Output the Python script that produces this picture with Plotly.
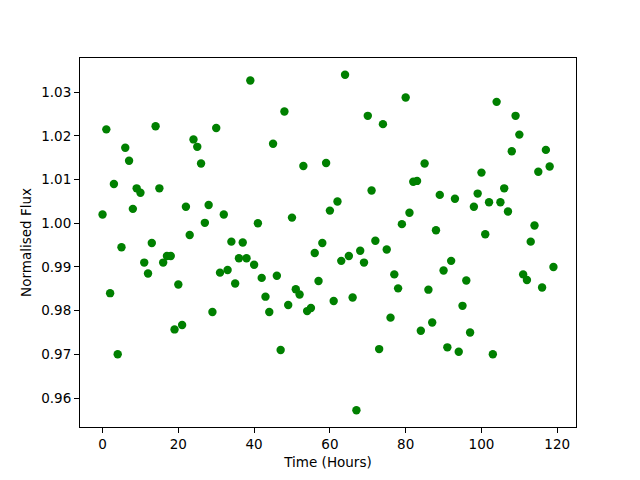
import plotly.graph_objects as go

hours = list(range(120))
flux = [
    1.0020, 1.0215, 0.9840, 1.0090, 0.9700, 0.9945, 1.0173, 1.0143, 1.0033, 1.0080,
    1.0070, 0.9910, 0.9885, 0.9955, 1.0222, 1.0080, 0.9910, 0.9925, 0.9925, 0.9757,
    0.9860, 0.9767, 1.0038, 0.9973, 1.0192, 1.0175, 1.0137, 1.0001, 1.0042, 0.9797,
    1.0218, 0.9887, 1.0020, 0.9893, 0.9958, 0.9862, 0.9920, 0.9956, 0.9920, 1.0327,
    0.9905, 1.0000, 0.9875, 0.9832, 0.9797, 1.0182, 0.9880, 0.9710, 1.0256, 0.9813,
    1.0013, 0.9849, 0.9837, 1.0131, 0.9799, 0.9806, 0.9932, 0.9868, 0.9955, 1.0138,
    1.0029, 0.9822, 1.0050, 0.9914, 1.0340, 0.9925, 0.9830, 0.9572, 0.9937, 0.9910,
    1.0246, 1.0075, 0.9960, 0.9712, 1.0227, 0.9940, 0.9784, 0.9883, 0.9851, 0.9998,
    1.0288, 1.0024, 1.0095, 1.0097, 0.9754, 1.0137, 0.9848, 0.9773, 0.9984, 1.0065,
    0.9892, 0.9716, 0.9914, 1.0056, 0.9706, 0.9811, 0.9869, 0.9750, 1.0038, 1.0068,
    1.0116, 0.9975, 1.0048, 0.9700, 1.0278, 1.0048, 1.0080, 1.0027, 1.0165, 1.0246,
    1.0203, 0.9883, 0.9870, 0.9958, 0.9995, 1.0118, 0.9853, 1.0168, 1.0130, 0.9900,
]
x_ticks = [0, 20, 40, 60, 80, 100, 120]
y_ticks = [0.96, 0.97, 0.98, 0.99, 1.00, 1.01, 1.02, 1.03]

xmin, xmax = min(hours), max(hours)
ymin, ymax = min(flux), max(flux)
xpad = (xmax - xmin) * 0.05
ypad = (ymax - ymin) * 0.05

fig = go.Figure(go.Scatter(
    x=hours, y=flux, mode="markers",
    marker=dict(color="#008000", size=8.4, line=dict(width=0)),
))

axis_common = dict(
    showgrid=False, zeroline=False, showline=True, linecolor="black", linewidth=1,
    mirror=True, ticks="outside", ticklen=5, tickwidth=1, tickcolor="black",
    tickfont=dict(family="DejaVu Sans", size=13.5, color="black"),
)

fig.update_layout(
    width=640, height=480,
    margin=dict(l=72, r=72, t=50, b=61, autoexpand=False),
    paper_bgcolor="white", plot_bgcolor="white",
    showlegend=False,
    font=dict(family="DejaVu Sans", size=13.5, color="black"),
    xaxis=dict(
        range=[xmin - xpad, xmax + xpad], tickvals=x_ticks,
        ticktext=[str(v) for v in x_ticks],
        title=dict(text="Time (Hours)", standoff=6,
                   font=dict(family="DejaVu Sans", size=13.5, color="black")),
        **axis_common,
    ),
    yaxis=dict(
        range=[ymin - ypad, ymax + ypad], tickvals=y_ticks,
        ticktext=[f"{v:.2f}" for v in y_ticks],
        title=dict(text="Normalised Flux", standoff=6,
                   font=dict(family="DejaVu Sans", size=13.5, color="black")),
        **axis_common,
    ),
)

fig.write_html("out.html")
